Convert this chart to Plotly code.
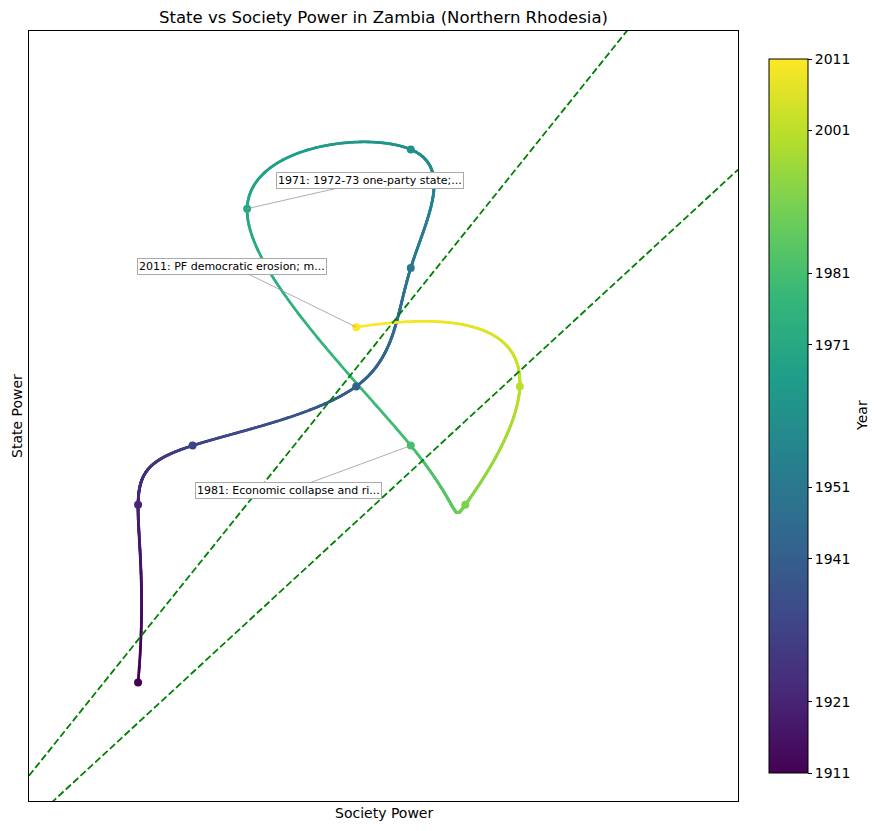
import numpy as np
import plotly.graph_objects as go

# ---- data ----
years = [1911, 1921, 1931, 1941, 1951, 1961, 1971, 1981, 1991, 2001, 2011]
society_power = [2, 2, 3, 6, 7, 7, 4, 7, 8, 9, 6]
state_power = [2, 5, 6, 7, 9, 11, 10, 6, 5, 7, 8]

colorbar_ticks = [1911, 1921, 1941, 1951, 1971, 1981, 2001, 2011]

# reference (threshold) lines: slope, intercept
ref_slopes = [1.147, 0.849]
ref_intercepts = [0.427, -0.378]

annot_years = [1971, 2011, 1981]
annot_texts = ["1971: 1972-73 one-party state;...",
               "2011: PF democratic erosion; m...",
               "1981: Economic collapse and ri..."]
annot_offsets = [(123, -28), (-124, -61), (-122, 45)]

X_RANGE = [0, 13]
Y_RANGE = [0, 13]


def notaknot_spline(t, y, tq):
    """Cubic spline (not-a-knot) through (t, y), evaluated at tq. Uniform knots."""
    t = np.asarray(t, float)
    y = np.asarray(y, float)
    n = len(t)
    h = t[1] - t[0]
    A = np.zeros((n, n))
    b = np.zeros(n)
    A[0, 0:3] = [1, -2, 1]
    A[-1, -3:] = [1, -2, 1]
    for i in range(1, n - 1):
        A[i, i - 1:i + 2] = [1, 4, 1]
        b[i] = 6.0 / h ** 2 * (y[i - 1] - 2 * y[i] + y[i + 1])
    M = np.linalg.solve(A, b)
    idx = np.clip(np.searchsorted(t, tq, side="right") - 1, 0, n - 2)
    t0 = t[idx]
    t1 = t[idx + 1]
    return (M[idx] * (t1 - tq) ** 3 / (6 * h) + M[idx + 1] * (tq - t0) ** 3 / (6 * h)
            + (y[idx] / h - M[idx] * h / 6) * (t1 - tq)
            + (y[idx + 1] / h - M[idx + 1] * h / 6) * (tq - t0))


tq = np.linspace(years[0], years[-1], 2500)
xs = notaknot_spline(years, society_power, tq)
ys = notaknot_spline(years, state_power, tq)

fig = go.Figure()

# smooth trajectory coloured by year
fig.add_trace(go.Scatter(
    x=xs, y=ys, mode="markers",
    marker=dict(size=2.8, color=tq, colorscale="Viridis", cmin=years[0], cmax=years[-1],
                line=dict(width=0)),
    hoverinfo="skip", showlegend=False))

# data points
fig.add_trace(go.Scatter(
    x=society_power, y=state_power, mode="markers",
    marker=dict(size=8, color=years, colorscale="Viridis", cmin=years[0], cmax=years[-1],
                line=dict(width=0),
                showscale=True,
                colorbar=dict(
                    tickvals=colorbar_ticks, ticktext=[str(v) for v in colorbar_ticks],
                    ticks="outside", ticklen=4, tickwidth=1, tickcolor="black",
                    tickfont=dict(size=14, color="black"),
                    outlinewidth=1, outlinecolor="black",
                    thickness=39, len=714 / 770, lenmode="fraction",
                    xpad=0, ypad=0,
                    x=(769 - 29) / 709, xref="paper", xanchor="left",
                    y=0.5, yref="paper", yanchor="middle",
                )),
    text=[str(y) for y in years], hoverinfo="text", showlegend=False))

# dashed reference lines
for m, c in zip(ref_slopes, ref_intercepts):
    lx = np.array(X_RANGE, float)
    fig.add_trace(go.Scatter(x=lx, y=m * lx + c, mode="lines",
                             line=dict(color="green", width=1.8, dash="7px,3px"),
                             hoverinfo="skip", showlegend=False))

# annotations
for yr, txt, (ax, ay) in zip(annot_years, annot_texts, annot_offsets):
    i = years.index(yr)
    fig.add_annotation(x=society_power[i], y=state_power[i], text=txt,
                       showarrow=True, arrowhead=0, arrowwidth=0.8, arrowcolor="#999999",
                       ax=ax, ay=ay, font=dict(size=11, color="black"),
                       bgcolor="white", bordercolor="#aaaaaa", borderwidth=1, borderpad=1)

# axis titles as annotations for precise placement
fig.add_annotation(text="Society Power", xref="paper", yref="paper", x=0.5, y=-12 / 770,
                   yanchor="middle", showarrow=False, font=dict(size=14, color="black"))
fig.add_annotation(text="State Power", xref="paper", yref="paper", x=-12 / 709, y=0.5,
                   textangle=-90, xanchor="center", showarrow=False,
                   font=dict(size=14, color="black"))
# colorbar title
fig.add_annotation(text="Year", xref="paper", yref="paper", x=(862 - 29) / 709, y=0.5,
                   textangle=-90, xanchor="center", yanchor="middle", showarrow=False,
                   font=dict(size=14, color="black"))

fig.update_xaxes(range=X_RANGE, showticklabels=False, ticks="", showgrid=False,
                 zeroline=False, showline=True, linecolor="black", linewidth=1, mirror=True)
fig.update_yaxes(range=Y_RANGE, showticklabels=False, ticks="", showgrid=False,
                 zeroline=False, showline=True, linecolor="black", linewidth=1, mirror=True)

fig.update_layout(
    width=879, height=831,
    margin=dict(l=29, r=141, t=31, b=30),
    paper_bgcolor="white", plot_bgcolor="white",
    font=dict(family="DejaVu Sans", color="black"),
    title=dict(text="State vs Society Power in Zambia (Northern Rhodesia)",
               x=0.5, xref="paper", xanchor="center",
               y=1 - 17 / 831, yanchor="middle", font=dict(size=16.5, color="black")),
)

fig.write_html("out.html")
